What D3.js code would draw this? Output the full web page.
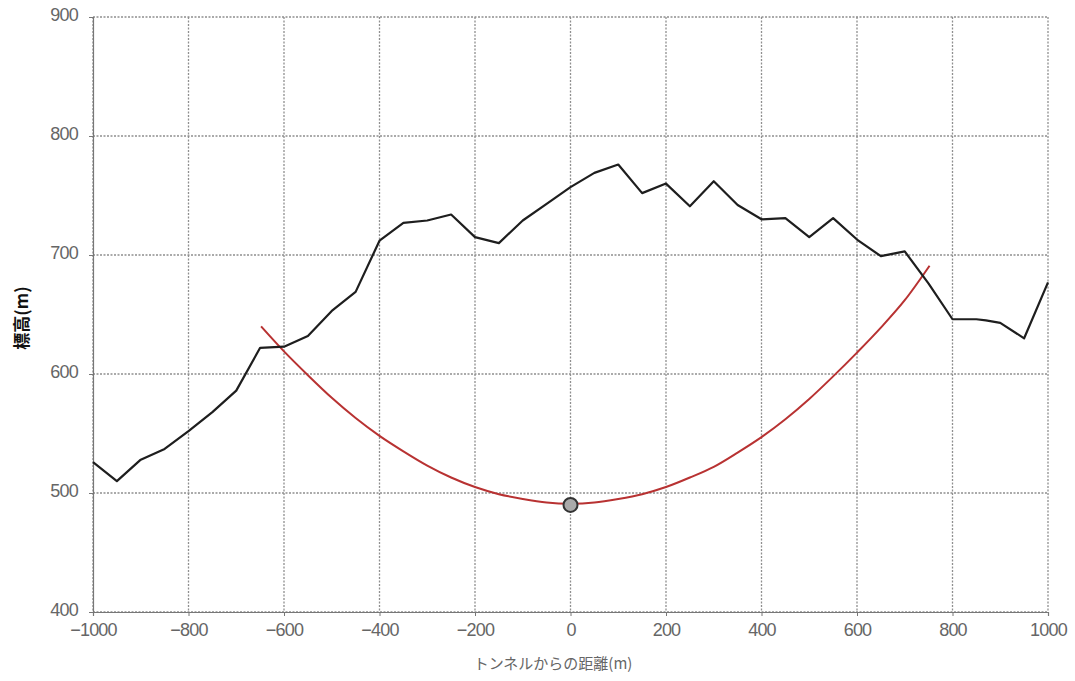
<!DOCTYPE html>
<html>
<head>
<meta charset="utf-8">
<script src="https://cdn.jsdelivr.net/npm/d3@7/dist/d3.min.js"></script>
<style>
  html, body { margin: 0; padding: 0; background: #fff; }
  svg { display: block; }
</style>
</head>
<body>
<svg id="chart" width="1075" height="681"></svg>
<script>
// Terrain profile (black)
const terrainX = [-1000,-950,-900,-850,-800,-750,-700,-650,-600,-550,-500,-450,-400,-350,-300,-250,-200,-150,-100,-50,0,50,100,150,200,250,300,350,400,450,500,550,600,650,700,750,800,850,870,900,950,1000];
const terrainY = [526,510,528,537,552,568,586,622,623,632,653,669,712,727,729,734,715,710,729,743,757,769,776,752,760,741,762,742,730,731,715,731,713,699,703,676,646,646,645,643,630,677];
// Tunnel curve (red)
const curveX = [-648,-600,-550,-500,-450,-400,-350,-300,-250,-200,-150,-100,-50,0,50,100,150,200,250,300,350,400,450,500,550,600,650,700,752];
const curveY = [640,619,599,580,563,548,535,523,513,505,499,495,492,491,492,495,499,505,513,522,534,547,562,579,598,618,639,662,691];
// Marker
const markerX = [0];
const markerY = [490];
// Ticks
const xTicks = [-1000,-800,-600,-400,-200,0,200,400,600,800,1000];
const yTicks = [400,500,600,700,800,900];
const xTitle = "トンネルからの距離(m)";
const yTitle = "標高(m)";

const svg = d3.select("#chart");
const mLeft = 93, mRight = 1048, mTop = 17, mBottom = 612;
const x = d3.scaleLinear().domain([-1000, 1000]).range([mLeft, mRight]);
const y = d3.scaleLinear().domain([400, 900]).range([mBottom, mTop]);

// grid
const grid = svg.append("g");
grid.selectAll("line.v").data(xTicks).enter().append("line")
  .attr("x1", d => x(d)).attr("x2", d => x(d))
  .attr("y1", mTop).attr("y2", mBottom)
  .attr("stroke", "#8f8f8f").attr("stroke-width", 1.3).attr("stroke-dasharray", "2,1.5");
grid.selectAll("line.h").data(yTicks).enter().append("line")
  .attr("y1", d => y(d)).attr("y2", d => y(d))
  .attr("x1", mLeft).attr("x2", mRight)
  .attr("stroke", "#8f8f8f").attr("stroke-width", 1.3).attr("stroke-dasharray", "2,1.5");

// axes
const xAxis = d3.axisBottom(x).tickValues(xTicks).tickSize(4).tickFormat(d3.format("d"));
const yAxis = d3.axisLeft(y).tickValues(yTicks).tickSize(4).tickFormat(d3.format("d"));
const gx = svg.append("g").attr("transform", `translate(0,${mBottom})`).call(xAxis);
const gy = svg.append("g").attr("transform", `translate(${mLeft},0)`).call(yAxis);
[gx, gy].forEach(g => {
  g.select(".domain").attr("stroke", "#777").attr("stroke-width", 1.2);
  g.selectAll(".tick line").attr("stroke", "#777");
  g.selectAll(".tick text")
    .attr("fill", "#666")
    .style("font-family", "'Liberation Sans', Arial, sans-serif")
    .style("font-size", "18px")
    .style("letter-spacing", "-0.8px");
});
gx.selectAll(".tick text").attr("dy", "0.95em");
gy.selectAll(".tick text").attr("x", -15).attr("dy", "0.2em");

// lines
const terrain = terrainX.map((d, i) => [d, terrainY[i]]);
const curve = curveX.map((d, i) => [d, curveY[i]]);
svg.append("path").datum(curve)
  .attr("d", d3.line().x(d => x(d[0])).y(d => y(d[1])).curve(d3.curveMonotoneX))
  .attr("fill", "none").attr("stroke", "#b83232").attr("stroke-width", 2);
svg.append("path").datum(terrain)
  .attr("d", d3.line().x(d => x(d[0])).y(d => y(d[1])))
  .attr("fill", "none").attr("stroke", "#1e1e1e").attr("stroke-width", 2.2).attr("stroke-linejoin", "round");

// marker
svg.selectAll("circle.m").data(markerX).enter().append("circle")
  .attr("cx", d => x(d)).attr("cy", (d, i) => y(markerY[i]))
  .attr("r", 7).attr("fill", "#aaa").attr("stroke", "#333").attr("stroke-width", 2);

// titles
svg.append("text").attr("x", 553).attr("y", 669).attr("text-anchor", "middle")
  .attr("fill", "#666").style("font-family", "'Noto Sans CJK JP', sans-serif").style("font-size", "15px")
  .text(xTitle);
svg.append("text").attr("transform", "translate(28,318) rotate(-90)").attr("text-anchor", "middle")
  .attr("fill", "#111").style("font-family", "'Noto Sans CJK JP', sans-serif").style("font-size", "17px")
  .style("font-weight", "bold").text(yTitle);
</script>
</body>
</html>
